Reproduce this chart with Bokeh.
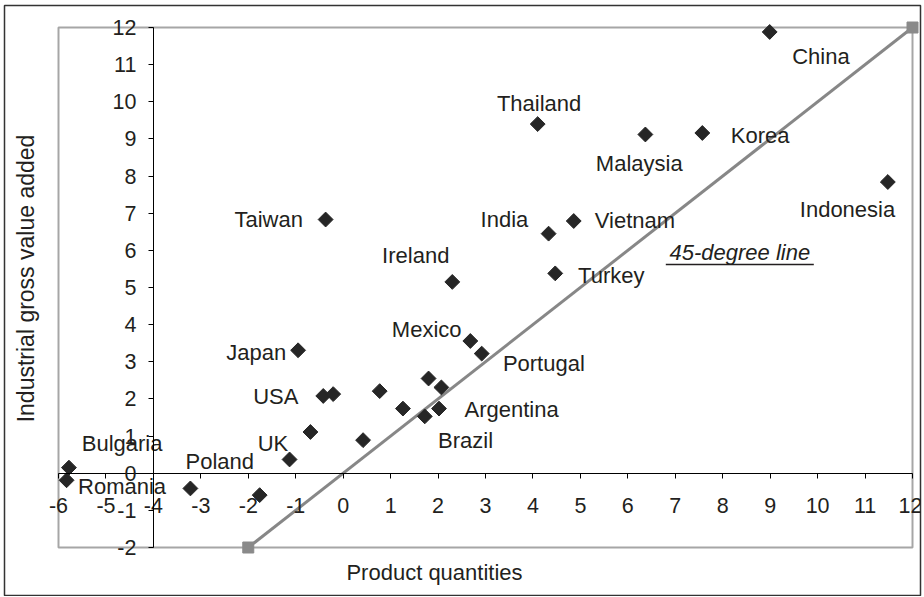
import numpy as np
from bokeh.plotting import figure
from bokeh.models import FixedTicker, Label, ColumnDataSource, CustomJSTickFormatter
from bokeh.core.properties import value
from bokeh.embed import file_html
from bokeh.resources import INLINE

# ---- data ----
point_x = [-5.78, -5.83, -3.22, -1.76, -1.13, -0.69, -0.42, -0.21, -0.95, -0.37,
           0.42, 0.77, 1.26, 1.72, 1.80, 2.02, 2.07, 2.68, 2.92, 2.30,
           4.33, 4.47, 4.86, 4.10, 6.37, 7.57, 8.99, 11.48]
point_y = [0.15, -0.19, -0.41, -0.59, 0.37, 1.11, 2.08, 2.13, 3.31, 6.83,
           0.89, 2.21, 1.74, 1.53, 2.55, 1.74, 2.31, 3.56, 3.22, 5.15,
           6.45, 5.38, 6.79, 9.40, 9.12, 9.16, 11.88, 7.84]

label_text = ["Thailand", "Taiwan", "India", "Vietnam", "Ireland", "Turkey", "China",
              "Korea", "Malaysia", "Indonesia", "Japan", "USA", "UK", "Mexico",
              "Portugal", "Argentina", "Brazil", "Poland", "Bulgaria", "Romania"]
label_x = [4.13, -1.57, 3.40, 6.15, 1.53, 5.65, 10.07,
           8.79, 6.24, 10.63, -1.83, -1.42, -1.48, 1.76,
           4.23, 3.55, 2.58, -2.60, -4.66, -4.66]
label_y = [9.95, 6.84, 6.84, 6.81, 5.87, 5.33, 11.21,
           9.10, 8.34, 7.10, 3.24, 2.07, 0.80, 3.87,
           2.95, 1.72, 0.89, 0.32, 0.80, -0.35]

line_x = [-2, 12]
line_y = [-2, 12]
line_label = "45-degree line"
line_label_x = 8.36
line_label_y = 5.93

x_ticks = list(range(-6, 13))
y_ticks = list(range(-2, 13))
x_cross = 0      # x axis crosses y at 0
y_cross = -4     # y axis crosses x at -4
x_title = "Product quantities"
y_title = "Industrial gross value added"

FONT = "Liberation Sans"
TXT = "#231f20"

# ---- layout (pixels) ----
W, H = 922, 596
FL, FT, FR, FB = 4, 5, 920, 595          # outer frame (chart border)
PL, PT, PR, PB = 58, 27, 912, 547        # plot area
xmin, xmax = min(x_ticks), max(x_ticks)
ymin, ymax = min(y_ticks), max(y_ticks)
xs = (PR - PL) / (xmax - xmin)
ys = (PB - PT) / (ymax - ymin)
x_range = (xmin - (PL - FL) / xs, xmax + (FR - PR) / xs)
y_range = (ymin - (FB - PB) / ys, ymax + (PT - FT) / ys)

p = figure(width=W, height=H, x_range=x_range, y_range=y_range,
           output_backend="svg", toolbar_location=None,
           min_border_left=FL, min_border_right=W - FR, min_border_top=FT,
           min_border_bottom=H - FB)
p.grid.visible = False
p.outline_line_color = "#333333"
p.outline_line_width = 1.5
p.background_fill_color = "white"
p.border_fill_color = "white"

# plot-area border
p.quad(left=[xmin], right=[xmax], bottom=[ymin], top=[ymax], fill_color=None,
       line_color="#a6a6a6", line_width=2)

fmt = CustomJSTickFormatter(code="return tick.toFixed(0);")
for ax, loc, ticks in ((p.xaxis[0], x_cross, x_ticks), (p.yaxis[0], y_cross, y_ticks)):
    ax.fixed_location = loc
    ax.ticker = FixedTicker(ticks=ticks)
    ax.bounds = (min(ticks), max(ticks))
    ax.formatter = fmt
    ax.axis_line_color = "black"
    ax.axis_line_width = 1
    ax.major_tick_line_color = "black"
    ax.major_tick_in = 0
    ax.major_tick_out = 5
    ax.minor_tick_line_color = None
    ax.major_label_text_font = FONT
    ax.major_label_text_font_size = "21.5px"
    ax.major_label_text_color = TXT
p.xaxis[0].major_label_standoff = 20
p.yaxis[0].major_label_standoff = 12

# 45-degree line
p.line(line_x, line_y, line_color="#878787", line_width=3)
p.scatter(line_x, line_y, marker="square", size=11, fill_color="#8a8a8a", line_color="#8a8a8a")

# points
src = ColumnDataSource(dict(x=point_x, y=point_y))
p.scatter("x", "y", source=src, marker="square", angle=np.pi / 4, size=10.5,
          fill_color="#262626", line_color="#262626")

# labels
lsrc = ColumnDataSource(dict(x=label_x, y=label_y, t=label_text))
p.text("x", "y", text="t", source=lsrc, text_font=value(FONT), text_font_size="22px",
       text_color=TXT, text_align="center", text_baseline="middle")

p.add_layout(Label(x=line_label_x, y=line_label_y, text=line_label, text_font=FONT,
                   text_font_size="22px", text_font_style="italic", text_color=TXT,
                   text_align="center", text_baseline="middle"))
half_w = 74 / xs
ul_off = 11.5 / ys
p.segment(x0=[line_label_x - half_w], y0=[line_label_y - ul_off],
          x1=[line_label_x + half_w], y1=[line_label_y - ul_off],
          line_color=TXT, line_width=1.5)

# axis titles (screen units relative to the frame)
p.add_layout(Label(x=434 - FL, y=FB - 572, x_units="screen", y_units="screen", text=x_title,
                   text_font=FONT, text_font_size="22px", text_color=TXT,
                   text_align="center", text_baseline="middle"))
p.add_layout(Label(x=25 - FL, y=FB - 278, x_units="screen", y_units="screen", text=y_title,
                   angle=np.pi / 2, text_font=FONT, text_font_size="23px", text_color=TXT,
                   text_align="center", text_baseline="middle"))

open("out.html", "w").write(file_html(p, INLINE))
